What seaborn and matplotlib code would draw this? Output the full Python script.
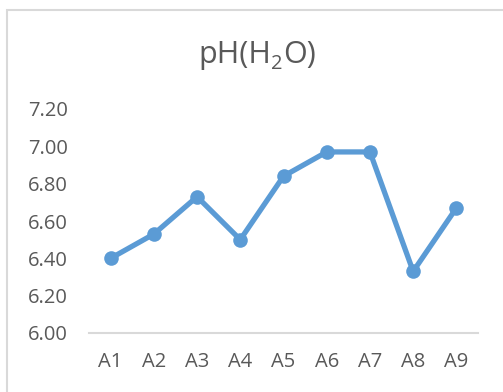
import matplotlib
matplotlib.use("Agg")
import matplotlib.pyplot as plt
import seaborn as sns
import pandas as pd
from matplotlib.patches import Rectangle

samples = ["A1", "A2", "A3", "A4", "A5", "A6", "A7", "A8", "A9"]
ph_values = [6.40, 6.53, 6.73, 6.50, 6.84, 6.97, 6.97, 6.33, 6.67]
y_ticks = [6.00, 6.20, 6.40, 6.60, 6.80, 7.00, 7.20]
title_parts = [("pH(H", False), ("2", True), ("O)", False)]

sns.set_theme(style="white")
plt.rcParams['font.family'] = ['Open Sans', 'DejaVu Sans']

W, H = 503, 392
fig = plt.figure(figsize=(W / 100, H / 100), dpi=100)
fig.patch.set_facecolor("white")

# chart border (extends beyond the right and bottom edges)
fig.patches.append(Rectangle((7 / W, -0.1), 1.2, 1 - 10 / H + 0.1,
                             transform=fig.transFigure, fill=False,
                             edgecolor="#D9D9D9", linewidth=1.5))

left, right = 89 / W, 478 / W
bottom, top = 1 - 333 / H, 1 - 109 / H
ax = fig.add_axes([left, bottom, right - left, top - bottom])

df = pd.DataFrame({"sample": samples, "ph": ph_values})
sns.lineplot(data=df, x="sample", y="ph", ax=ax, sort=False,
             color="#5B9BD5", linewidth=3.8, marker="o", markersize=10.5,
             markeredgewidth=0, clip_on=False)

ax.set_xlim(-0.5, len(samples) - 0.5)
ax.set_ylim(6.0, 7.2)
ax.set_yticks(y_ticks)
ax.set_yticklabels([f"{v:.2f}" for v in y_ticks])
ax.set_xlabel("")
ax.set_ylabel("")
ax.grid(False)
for s in ["top", "right", "left"]:
    ax.spines[s].set_visible(False)
ax.spines["bottom"].set_color("#D9D9D9")
ax.spines["bottom"].set_linewidth(1.5)
ax.tick_params(axis="both", length=0, labelsize=14.5, labelcolor="#595959")
ax.tick_params(axis="y", pad=15)
ax.tick_params(axis="x", pad=14)

# title with a real subscript, assembled from pieces
renderer = fig.canvas.get_renderer()
main_size, sub_size = 22, 14.5
base_y = 1 - 63 / H
sub_drop = 6 / H
texts = []
total = 0.0
for s, is_sub in title_parts:
    t = fig.text(0, base_y - (sub_drop if is_sub else 0), s, ha="left",
                 va="baseline", fontsize=sub_size if is_sub else main_size,
                 color="#595959")
    w = t.get_window_extent(renderer).width / W
    texts.append((t, w))
    total += w
x = 257 / W - total / 2
for t, w in texts:
    t.set_x(x)
    x += w

fig.savefig("out.png", dpi=100, facecolor="white")
